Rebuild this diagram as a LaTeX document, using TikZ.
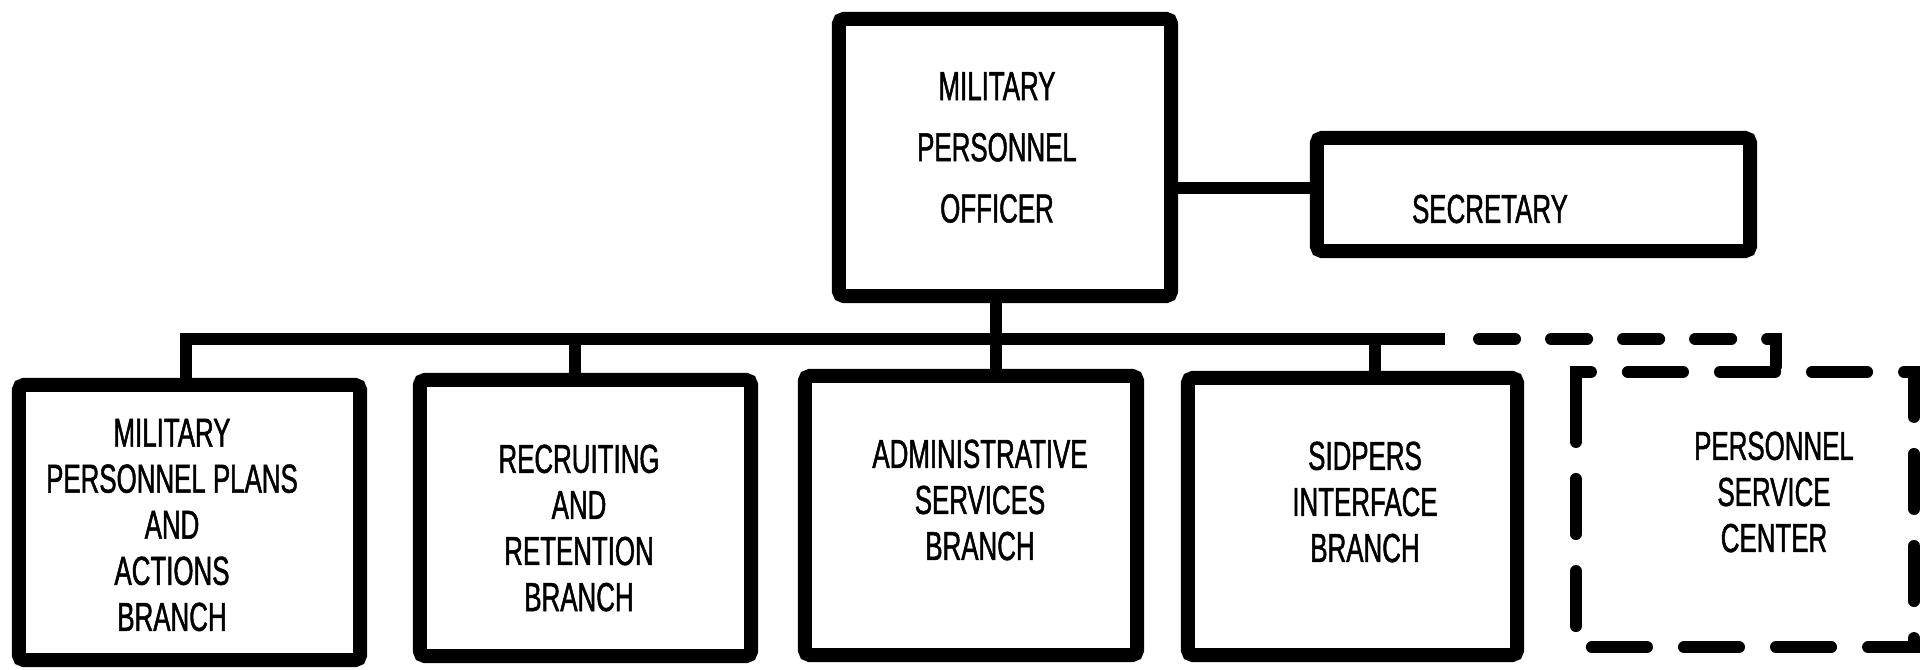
\documentclass[tikz,border=0pt]{standalone}
\usepackage{fontspec}
% condensed hand-lettering look
\newfontfamily\lettering[FakeStretch=0.64,FakeBold=1.2]{Liberation Sans}
\begin{document}
\begin{tikzpicture}[x=0.01cm,y=-0.01cm,
  box/.style={draw, line width=0.14cm, rounded corners=0.05cm, outer sep=0pt, inner sep=0pt},
  frame/.style={outer sep=0pt, inner sep=0pt},
  dashbox/.style={line width=0.12cm, line cap=round, dash pattern=on 0.55cm off 0.37cm},
  conn/.style={line width=0.12cm},
  dconn/.style={line width=0.12cm, line cap=round, dash pattern=on 0.36cm off 0.36cm},
  lbl/.style={align=center, inner sep=0pt, font=\lettering\fontsize{11.5}{13.1}\selectfont},
  toplbl/.style={align=center, inner sep=0pt, font=\lettering\fontsize{11.5}{17.4}\selectfont}]
\useasboundingbox (0,0) rectangle (1920,670);

% boxes
\node[box, minimum width=3.32cm, minimum height=2.77cm] (top) at (1005,157.5) {};
\node[box, minimum width=4.33cm, minimum height=1.13cm] (sec) at (1533.5,194.5) {};
\node[box, minimum width=3.41cm, minimum height=2.75cm] (b1) at (189.5,522.5) {};
\node[box, minimum width=3.31cm, minimum height=2.76cm] (b2) at (585.5,518) {};
\node[box, minimum width=3.32cm, minimum height=2.79cm] (b3) at (971,515.5) {};
\node[box, minimum width=3.29cm, minimum height=2.77cm] (b4) at (1352.5,516.5) {};
\node[frame, minimum width=3.38cm, minimum height=2.75cm] (b5) at (1745,509.5) {};
\draw[dashbox] ([yshift=-0.4cm]b5.north west) -- (b5.north west) -- (b5.north east)
  -- (b5.south east) -- (b5.south west) -- cycle;

% labels
\node[toplbl] (ttop) at (997,147.5) {MILITARY\\PERSONNEL\\OFFICER};
\node[lbl] (tsec) at (1490,209) {SECRETARY};
\node[lbl] (t1) at (172,525) {MILITARY\\PERSONNEL PLANS\\AND\\ACTIONS\\BRANCH};
\node[lbl] (t2) at (579,528) {RECRUITING\\AND\\RETENTION\\BRANCH};
\node[lbl] (t3) at (980,500) {ADMINISTRATIVE\\SERVICES\\BRANCH};
\node[lbl] (t4) at (1365,502) {SIDPERS\\INTERFACE\\BRANCH};
\node[lbl] (t5) at (1774,492) {PERSONNEL\\SERVICE\\CENTER};

% connectors
\draw[conn] ([yshift=0.06cm]sec.west) -- ([yshift=0.06cm]sec.west -| top.east);
\draw[conn] ([xshift=-0.09cm]top.south) -- ([xshift=-0.09cm]top.south |- b3.north);
\coordinate (busL) at (186,339);
\coordinate (busE) at (1445,339);
\draw[conn] (b1.north -| busL) -- (busL) -- (busE);
\coordinate (j2) at (575,339);
\coordinate (j4) at (1375,339);
\draw[conn] (j2) -- (j2 |- b2.north);
\draw[conn] (j4) -- (j4 |- b4.north);
\coordinate (dA) at (1479,339);
\coordinate (dB) at (1776,339);
\draw[dconn] (dA) -- (dB) -- (dB |- b5.north);
\end{tikzpicture}
\end{document}
